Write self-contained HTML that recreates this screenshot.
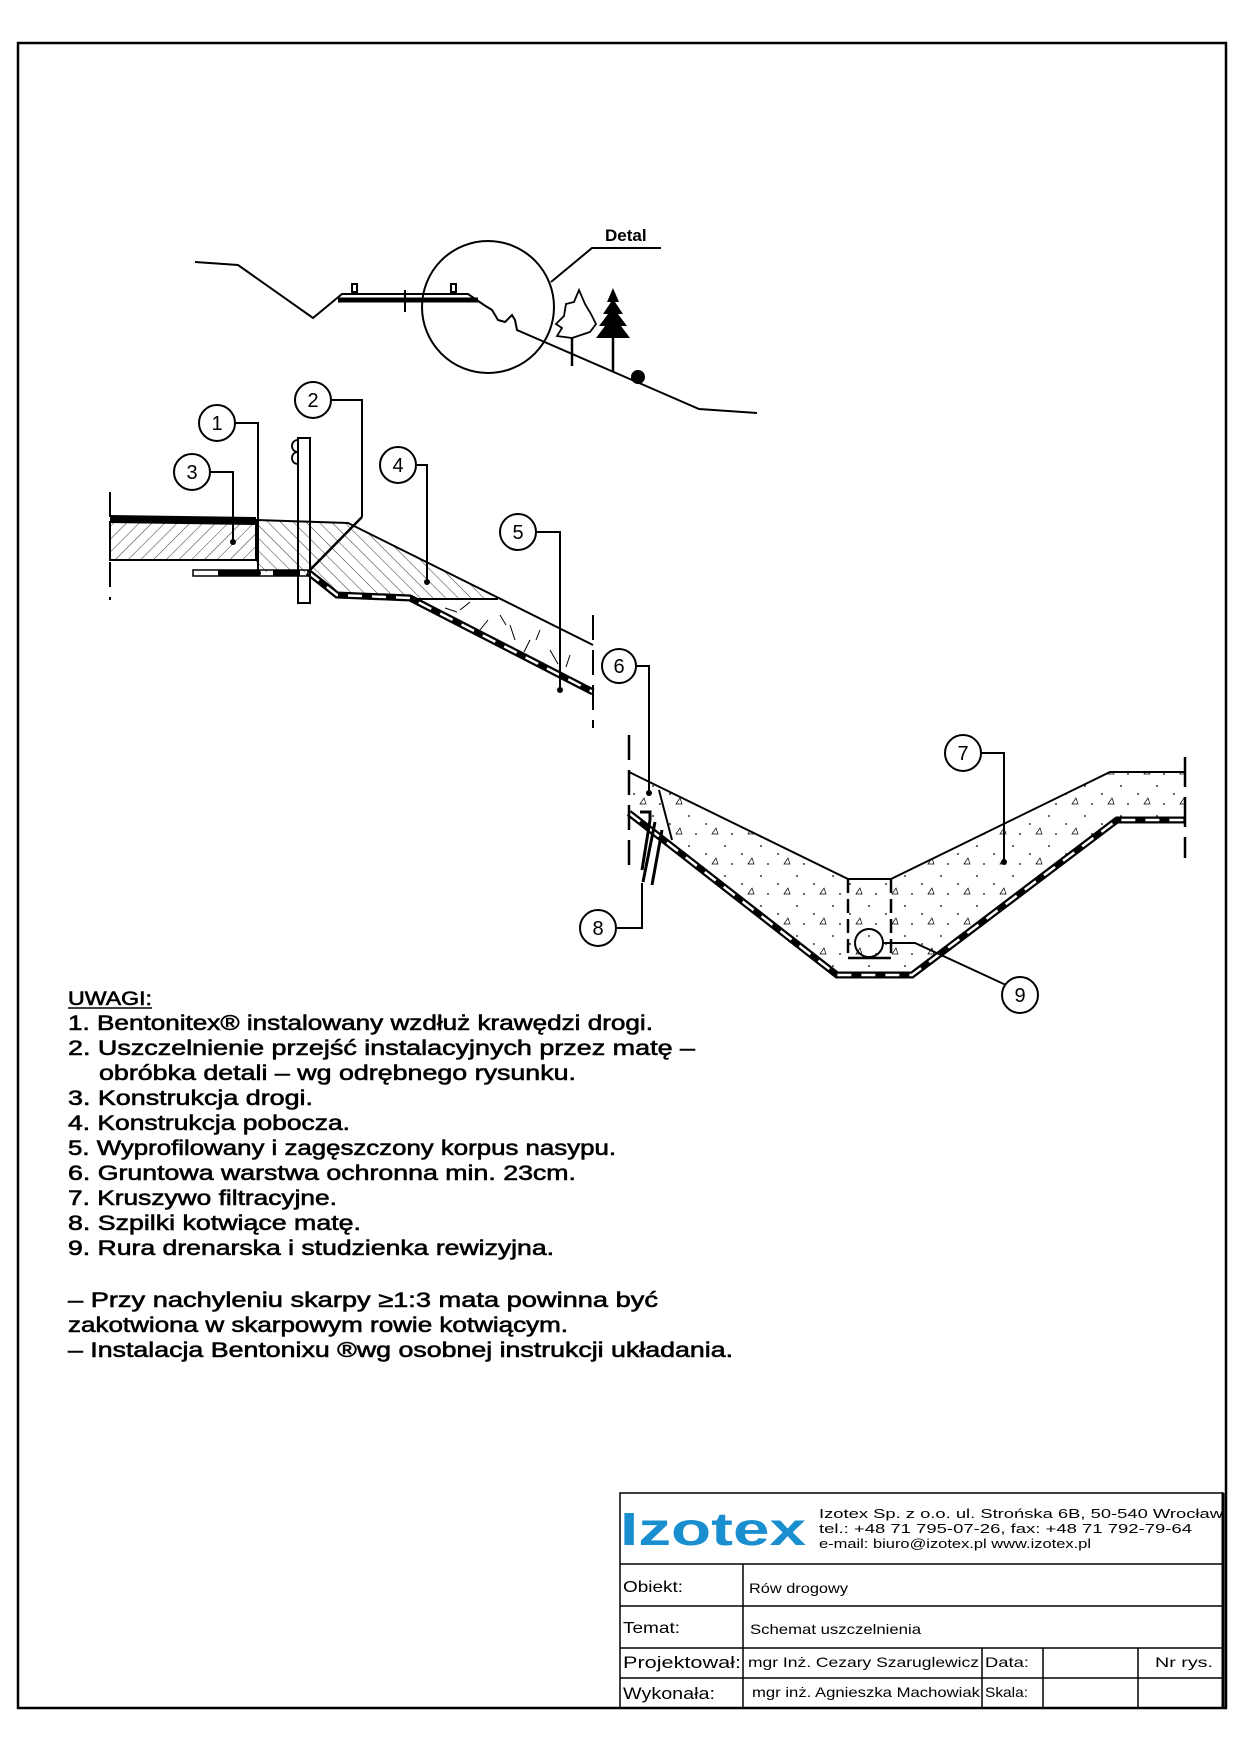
<!DOCTYPE html>
<html><head><meta charset="utf-8"><style>
html,body{margin:0;padding:0;background:#fff}
svg{display:block}
text{font-family:"Liberation Sans",sans-serif;fill:#000}
</style></head><body>
<svg width="1240" height="1754" viewBox="0 0 1240 1754" xmlns="http://www.w3.org/2000/svg">
<defs>
<pattern id="h1" width="9" height="9" patternUnits="userSpaceOnUse" patternTransform="rotate(45)"><line x1="0" y1="0" x2="0" y2="9" stroke="#000" stroke-width="0.8"/></pattern>
<pattern id="h2" width="9" height="9" patternUnits="userSpaceOnUse" patternTransform="rotate(-45)"><line x1="0" y1="0" x2="0" y2="9" stroke="#000" stroke-width="0.8"/></pattern>
<pattern id="sp" width="36" height="30" patternUnits="userSpaceOnUse"><circle cx="5" cy="6" r="0.9"/><circle cx="22" cy="14" r="0.9"/><circle cx="12" cy="24" r="0.9"/><path d="M28 24 l4 -6 l2 6 z" fill="none" stroke="#000" stroke-width="0.7"/></pattern>
</defs>
<rect x="18" y="43" width="1208" height="1665" fill="none" stroke="#000" stroke-width="2.5"/>

<!-- top sketch -->
<g fill="none" stroke="#000" stroke-width="2">
<polyline points="195,262 238,265 313,318 342,294 468,294 484,305 492,310 498,320 505,322 512,315 515,320 517,330 699,409 757,413"/>
<circle cx="488" cy="307" r="66"/>
<polyline points="551,282 592,248 661,248"/>
<line x1="338" y1="300" x2="478" y2="300" stroke-width="5"/>
<line x1="405" y1="290" x2="405" y2="312"/>
<rect x="352" y="284" width="5" height="8"/><rect x="451" y="284" width="5" height="8"/>
<line x1="572" y1="366" x2="572" y2="338" stroke-width="2.5"/>
<path d="M572,338 l-15,-2 l5,-8 l-6,-4 l8,-8 l2,-12 l8,-2 l5,-12 l6,14 l6,10 l5,10 l-6,8 l-18,6" stroke-width="1.8"/>
<line x1="613" y1="372" x2="613" y2="330" stroke-width="2.5"/>
</g>
<path d="M613,288 l-6,14 l4,0 l-8,12 l5,0 l-9,12 l6,0 l-9,12 l34,0 l-9,-12 l6,0 l-9,-12 l5,0 l-8,-12 l4,0 z" fill="#000"/>
<circle cx="638" cy="377" r="7" fill="#000"/>
<text x="605" y="241" font-size="17" font-weight="bold">Detal</text>

<!-- road detail -->
<rect x="110" y="522" width="146" height="38" fill="url(#h1)" stroke="#000" stroke-width="2"/>
<line x1="110" y1="519" x2="256" y2="521" stroke="#000" stroke-width="8"/>
<polygon points="256,520 348,523 593,645 593,692 410,598 337,595 308,572 256,572" fill="url(#h2)" stroke="none"/>
<polygon points="410,598 498,599 593,645 593,692" fill="#fff"/>
<g stroke="#000" stroke-width="1" fill="none"><path d="M460,610 l10,-8 M480,630 l8,-10 M510,625 l5,15 M530,640 l-6,12 M550,650 l8,14 M570,655 l-4,12 M445,608 l12,4 M500,615 l6,10 M540,630 l-4,10"/></g>
<g fill="none" stroke="#000" stroke-width="2">
<polyline points="256,520 348,523 593,645"/>
<line x1="410" y1="599" x2="498" y2="599"/>
<polyline points="308,572 337,595 410,598 593,692" stroke-width="7"/>
<polyline points="308,572 337,595 410,598 593,692" stroke="#fff" stroke-width="2.5" stroke-dasharray="14 10"/>
<rect x="193" y="570" width="115" height="6" stroke-width="1.5"/>
<line x1="218" y1="573" x2="300" y2="573" stroke-width="6" stroke-dasharray="40 15"/>
<rect x="298" y="438" width="12" height="165"/>
<path d="M298,440 c-8,0 -8,12 0,12 c-8,0 -8,12 0,12" stroke-width="1.8"/>
<line x1="362" y1="517" x2="308" y2="572" stroke-width="2.5"/>
<line x1="110" y1="492" x2="110" y2="600" stroke-dasharray="25 10"/>
<line x1="593" y1="615" x2="593" y2="728" stroke-dasharray="25 10"/>
</g>

<!-- ditch -->
<polygon points="629,772 848,879 891,879 1110,772 1185,772 1185,820 1117,820 912,975 837,975 629,813" fill="url(#sp)"/>
<g fill="none" stroke="#000" stroke-width="2">
<polyline points="629,772 848,879 891,879 1110,772 1185,772"/>
<polyline points="629,813 837,975 912,975 1117,820 1185,820" stroke-width="7"/>
<polyline points="629,813 837,975 912,975 1117,820 1185,820" stroke="#fff" stroke-width="2.5" stroke-dasharray="14 10"/>
<line x1="629" y1="735" x2="629" y2="870" stroke-width="2.5" stroke-dasharray="25 10"/>
<line x1="1185" y1="757" x2="1185" y2="858" stroke-width="2.5" stroke-dasharray="30 10"/>
<line x1="848" y1="879" x2="848" y2="958" stroke-width="2.5" stroke-dasharray="14 6"/>
<line x1="891" y1="879" x2="891" y2="958" stroke-width="2.5" stroke-dasharray="14 6"/>
<line x1="848" y1="958" x2="891" y2="958" stroke-width="2.5"/>
<circle cx="869" cy="943" r="14"/>
<line x1="659" y1="790" x2="672" y2="840" stroke-width="2"/>
<path d="M640,812 l10,0 l0,8 M650,820 l-8,50 M655,822 l-12,60 M662,830 l-10,55" stroke-width="3"/>
</g>

<!-- leaders and balloons -->
<g fill="none" stroke="#000" stroke-width="2">
<polyline points="235,423 258,423 258,573"/>
<polyline points="210,472 233,472 233,542"/>
<polyline points="331,400 362,400 362,517"/>
<polyline points="416,465 427,465 427,582"/>
<polyline points="536,532 560,532 560,690"/>
<polyline points="636,666 649,666 649,793"/>
<polyline points="981,753 1004,753 1004,862"/>
<polyline points="616,928 642,928 642,883"/>
<polyline points="883,943 915,943 1006,985"/>
</g>
<g fill="#000"><circle cx="258" cy="573" r="3"/><circle cx="233" cy="542" r="3"/><circle cx="427" cy="582" r="3"/><circle cx="560" cy="690" r="3"/><circle cx="649" cy="793" r="3"/><circle cx="1004" cy="862" r="3"/></g>
<g fill="#fff" stroke="#000" stroke-width="2">
<circle cx="217" cy="423" r="18"/><circle cx="313" cy="400" r="18"/><circle cx="192" cy="472" r="18"/><circle cx="398" cy="465" r="18"/><circle cx="518" cy="532" r="18"/><circle cx="619" cy="666" r="17"/><circle cx="963" cy="753" r="18"/><circle cx="598" cy="928" r="18"/><circle cx="1020" cy="995" r="18"/>
</g>
<g font-size="20" text-anchor="middle">
<text x="217" y="430">1</text><text x="313" y="407">2</text><text x="192" y="479">3</text><text x="398" y="472">4</text><text x="518" y="539">5</text><text x="619" y="673">6</text><text x="963" y="760">7</text><text x="598" y="935">8</text><text x="1020" y="1002">9</text>
</g>

<!-- notes -->
<g font-size="21" stroke="#000" stroke-width="0.6">
<text x="68" y="1005" font-size="19" textLength="84" lengthAdjust="spacingAndGlyphs">UWAGI:</text>
<line x1="68" y1="1008" x2="152" y2="1008" stroke="#000" stroke-width="1.5"/>
<text x="68" y="1030" textLength="585" lengthAdjust="spacingAndGlyphs">1. Bentonitex® instalowany wzdłuż krawędzi drogi.</text>
<text x="68" y="1055" textLength="627" lengthAdjust="spacingAndGlyphs">2. Uszczelnienie przejść instalacyjnych przez matę –</text>
<text x="99" y="1080" textLength="477" lengthAdjust="spacingAndGlyphs">obróbka detali – wg odrębnego rysunku.</text>
<text x="68" y="1105" textLength="245" lengthAdjust="spacingAndGlyphs">3. Konstrukcja drogi.</text>
<text x="68" y="1130" textLength="282" lengthAdjust="spacingAndGlyphs">4. Konstrukcja pobocza.</text>
<text x="68" y="1155" textLength="548" lengthAdjust="spacingAndGlyphs">5. Wyprofilowany i zagęszczony korpus nasypu.</text>
<text x="68" y="1180" textLength="508" lengthAdjust="spacingAndGlyphs">6. Gruntowa warstwa ochronna min. 23cm.</text>
<text x="68" y="1205" textLength="269" lengthAdjust="spacingAndGlyphs">7. Kruszywo filtracyjne.</text>
<text x="68" y="1230" textLength="293" lengthAdjust="spacingAndGlyphs">8. Szpilki kotwiące matę.</text>
<text x="68" y="1255" textLength="486" lengthAdjust="spacingAndGlyphs">9. Rura drenarska i studzienka rewizyjna.</text>
<text x="68" y="1307" textLength="590" lengthAdjust="spacingAndGlyphs">– Przy nachyleniu skarpy ≥1:3 mata powinna być</text>
<text x="68" y="1332" textLength="500" lengthAdjust="spacingAndGlyphs">zakotwiona w skarpowym rowie kotwiącym.</text>
<text x="68" y="1357" textLength="665" lengthAdjust="spacingAndGlyphs">– Instalacja Bentonixu ®wg osobnej instrukcji układania.</text>
</g>

<!-- title block -->
<g fill="none" stroke="#000" stroke-width="1.5">
<rect x="620" y="1493" width="603" height="215"/>
<line x1="620" y1="1564" x2="1223" y2="1564"/>
<line x1="620" y1="1606" x2="1223" y2="1606"/>
<line x1="620" y1="1648" x2="1223" y2="1648"/>
<line x1="620" y1="1678" x2="1223" y2="1678"/>
<line x1="743" y1="1564" x2="743" y2="1708"/>
<line x1="982" y1="1648" x2="982" y2="1708"/>
<line x1="1043" y1="1648" x2="1043" y2="1708"/>
<line x1="1138" y1="1648" x2="1138" y2="1708"/>
</g>
<line x1="1223" y1="1493" x2="1223" y2="1708" stroke="#000" stroke-width="3"/>
<text x="620" y="1545" font-size="46" font-weight="bold" style="fill:#1a8fd0" textLength="186" lengthAdjust="spacingAndGlyphs">Izotex</text>
<g font-size="13">
<text x="819" y="1518" textLength="404" lengthAdjust="spacingAndGlyphs">Izotex Sp. z o.o. ul. Strońska 6B, 50-540 Wrocław</text>
<text x="819" y="1533" textLength="373" lengthAdjust="spacingAndGlyphs">tel.: +48 71 795-07-26, fax: +48 71 792-79-64</text>
<text x="819" y="1548" textLength="272" lengthAdjust="spacingAndGlyphs">e-mail: biuro@izotex.pl www.izotex.pl</text>
</g>
<g font-size="14">
<text x="623" y="1592" font-size="16" textLength="60" lengthAdjust="spacingAndGlyphs">Obiekt:</text>
<text x="749" y="1593" textLength="99" lengthAdjust="spacingAndGlyphs">Rów drogowy</text>
<text x="623" y="1633" font-size="16" textLength="57" lengthAdjust="spacingAndGlyphs">Temat:</text>
<text x="750" y="1634" textLength="171" lengthAdjust="spacingAndGlyphs">Schemat uszczelnienia</text>
<text x="623" y="1668" font-size="17" textLength="118" lengthAdjust="spacingAndGlyphs">Projektował:</text>
<text x="748" y="1667" textLength="231" lengthAdjust="spacingAndGlyphs">mgr Inż. Cezary Szaruglewicz</text>
<text x="985" y="1667" textLength="44" lengthAdjust="spacingAndGlyphs">Data:</text>
<text x="1155" y="1667" textLength="58" lengthAdjust="spacingAndGlyphs">Nr rys.</text>
<text x="623" y="1699" font-size="17" textLength="92" lengthAdjust="spacingAndGlyphs">Wykonała:</text>
<text x="752" y="1697" textLength="228" lengthAdjust="spacingAndGlyphs">mgr inż. Agnieszka Machowiak</text>
<text x="985" y="1697" textLength="43" lengthAdjust="spacingAndGlyphs">Skala:</text>
</g>
</svg>
</body></html>
